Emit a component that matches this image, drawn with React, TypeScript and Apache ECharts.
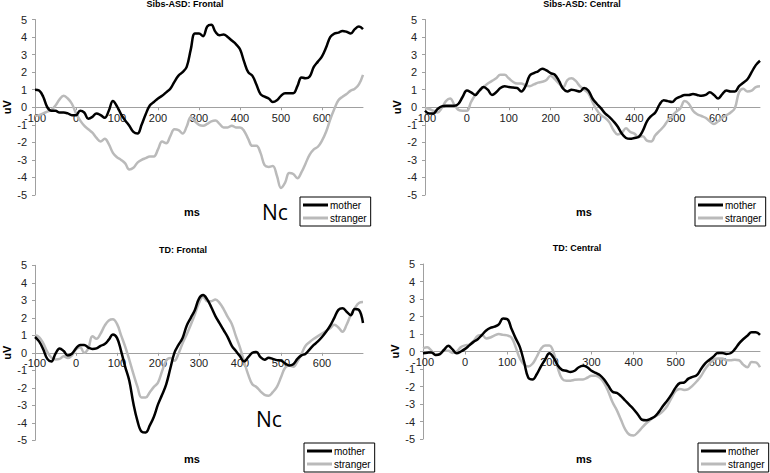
import React, { useEffect, useRef } from "react";
import * as echarts from "echarts";

const MS = [
  -100, -90, -80, -70, -60, -50, -40, -30, -20, -10,
  0, 10, 20, 30, 40, 50, 60, 70, 80, 90,
  100, 110, 120, 130, 140, 150, 160, 170, 180, 190,
  200, 210, 220, 230, 240, 250, 260, 270, 280, 290,
  300, 310, 320, 330, 340, 350, 360, 370, 380, 390,
  400, 410, 420, 430, 440, 450, 460, 470, 480, 490,
  500, 510, 520, 530, 540, 550, 560, 570, 580, 590,
  600, 610, 620, 630, 640, 650, 660, 670, 680, 690, 700,
];

const TITLES = ["Sibs-ASD: Frontal", "Sibs-ASD: Central", "TD: Frontal", "TD: Central"];
const SERIES_NAMES = ["mother", "stranger"];
const Y_TICKS = [-5, -4, -3, -2, -1, 0, 1, 2, 3, 4, 5];

// Sibs-ASD: Frontal
const sibsFrontalMother = [
  1.0, 0.95, 0.6, 0.0, -0.2, -0.2, -0.3, -0.3, -0.35, -0.45,
  -0.45, -0.2, -0.3, -0.65, -0.55, -0.35, -0.45, -0.6, -0.2, 0.35,
  0.05, -0.4, -0.75, -1.05, -1.4, -1.5, -1.0, -0.4, 0.1, 0.3,
  0.5, 0.65, 0.85, 1.05, 1.45, 1.8, 2.0, 2.3, 3.3, 4.2,
  4.2, 4.05, 4.6, 4.7, 4.3, 4.1, 4.15, 4.0, 3.8, 3.6,
  3.3, 2.6, 2.0, 1.8, 1.3, 0.75, 0.6, 0.5, 0.3, 0.4,
  0.65, 0.8, 0.8, 0.8, 1.2, 1.7, 1.65, 1.75, 2.3, 2.6,
  2.9, 3.4, 4.0, 4.2, 4.25, 4.35, 4.3, 4.2, 4.45, 4.6, 4.45,
];
const sibsFrontalStranger = [
  -0.5, -0.45, -0.35, -0.25, -0.15, 0.1, 0.45, 0.65, 0.5, 0.2,
  -0.35, -0.75, -1.05, -1.25, -1.45, -1.75, -1.95, -1.8, -2.1, -2.6,
  -2.85, -3.0, -3.2, -3.55, -3.45, -3.15, -3.0, -2.9, -2.8, -2.8,
  -2.4, -1.95, -2.05, -1.65, -1.25, -1.3, -1.5, -1.1, -0.55, -0.8,
  -1.0, -1.05, -0.95, -0.8, -0.75, -0.95, -1.15, -1.15, -1.05, -1.15,
  -1.15, -1.35, -1.8, -2.2, -2.2, -2.6, -3.3, -3.4, -3.35, -3.9,
  -4.6, -4.3, -3.75, -3.8, -4.05, -3.7, -3.2, -2.7, -2.4, -2.25,
  -1.9, -1.4, -0.7, -0.1, 0.4, 0.6, 0.75, 0.95, 1.05, 1.3, 1.85,
];

// Sibs-ASD: Central
const sibsCentralMother = [
  -0.2, -0.35, -0.35, -0.1, 0.05, 0.08, 0.08, 0.08, 0.2, 0.6,
  0.95, 0.85, 0.7, 0.95, 1.15, 1.0, 0.7, 0.85, 1.1, 1.2,
  1.15, 1.12, 1.1, 0.9, 1.2, 1.8, 1.95, 2.05, 2.2, 2.1,
  1.95, 1.85, 1.5, 1.05, 0.9, 1.0, 0.95, 0.9, 1.1, 0.95,
  0.5, 0.2, -0.05, -0.35, -0.55, -0.8, -1.1, -1.5, -1.75, -1.8,
  -1.75, -1.7, -1.35, -0.8, -0.5, -0.3, 0.15, 0.4, 0.35, 0.3,
  0.5, 0.6, 0.7, 0.7, 0.75, 0.7, 0.65, 0.7, 0.85, 0.7,
  0.5, 0.75, 0.95, 0.9, 0.9, 1.2, 1.4, 1.6, 2.0, 2.4, 2.65,
];
const sibsCentralStranger = [
  -0.05, -0.1, -0.2, -0.3, -0.05, 0.35, 0.5, 0.15, -0.15, -0.2,
  -0.2, 0.3, 0.7, 0.95, 1.15, 1.35, 1.5, 1.65, 1.85, 1.85,
  1.65, 1.45, 1.35, 1.35, 1.25, 1.2, 1.3, 1.4, 1.45, 1.55,
  1.8, 1.6, 1.35, 1.15, 1.55, 1.65, 1.5, 1.2, 1.0, 0.8,
  0.3, -0.15, -0.45, -0.6, -0.85, -1.3, -1.55, -1.45, -1.2, -1.4,
  -1.5, -1.7, -1.65, -1.9, -1.95, -1.6, -1.35, -1.1, -0.75, -0.5,
  -0.25, -0.05, 0.35, 0.2, -0.2, -0.4, -0.5, -0.6, -0.8, -0.95,
  -0.8, -0.6, -0.45, -0.3, -0.05, 0.85, 1.05, 0.9, 0.95, 1.15, 1.2,
];

// TD: Frontal
const tdFrontalMother = [
  0.9, 0.65, 0.2, -0.35, -0.5, -0.05, 0.25, 0.1, -0.15, -0.05,
  0.25, 0.45, 0.45, 0.3, 0.22, 0.25, 0.4, 0.5, 0.75, 1.05,
  0.85, 0.1, -0.8, -1.6, -2.9, -3.9, -4.5, -4.55, -4.15, -3.65,
  -2.95, -2.4, -1.8, -0.9, 0.0, 0.45, 0.85, 1.55, 2.0, 2.45,
  3.1, 3.3, 3.05, 2.6, 2.1, 1.7, 1.3, 0.9, 0.4, 0.1,
  -0.2, -0.5, -0.25, 0.0, 0.05, -0.25, -0.4, -0.28, -0.35, -0.42,
  -0.45, -0.6, -0.72, -0.65, -0.35, -0.15, -0.05, 0.2, 0.45, 0.65,
  0.9, 1.2, 1.55, 2.0, 2.45, 2.55, 2.35, 2.15, 2.5, 2.45, 1.7,
];
const tdFrontalStranger = [
  1.0, 0.9, 0.55, 0.05, -0.28, -0.38, -0.35, -0.2, -0.3, -0.15,
  0.2, 0.32, 0.0, 0.25, 0.95, 0.8, 1.1, 1.55, 1.85, 1.92,
  1.65, 1.0, 0.35, -0.4, -1.2, -1.95, -2.55, -2.55, -2.25, -1.95,
  -1.7, -1.05, -0.45, -0.3, -0.45, -0.05, 0.55, 1.05, 1.6, 2.2,
  2.85, 3.2, 2.95, 2.95, 3.05, 2.85, 2.5, 2.05, 1.65, 0.95,
  0.3, -0.5, -1.25, -1.8, -1.95, -2.2, -2.4, -2.45, -2.25, -1.95,
  -1.4, -0.85, -0.72, -0.8, -0.5, -0.05, 0.4, 0.62, 0.8, 0.95,
  1.1, 1.25, 1.4, 1.6, 1.45, 1.2, 1.6, 2.15, 2.55, 2.85, 2.9,
];

// TD: Central
const tdCentralMother = [
  -0.1, -0.07, -0.05, -0.2, -0.15, 0.1, 0.33, 0.12, -0.1, 0.0,
  0.15, 0.35, 0.55, 0.7, 0.95, 1.2, 1.35, 1.42, 1.55, 1.88,
  1.85, 1.3, 0.75, 0.25, -0.6, -1.5, -1.6, -1.3, -0.85, -0.45,
  -0.1, -0.35, -0.8, -1.05, -1.1, -1.17, -1.1, -0.9, -0.82, -0.9,
  -1.1, -1.22, -1.35, -1.6, -1.95, -2.3, -2.37, -2.55, -2.8, -3.05,
  -3.3, -3.6, -3.9, -3.93, -3.85, -3.72, -3.45, -3.1, -2.8, -2.45,
  -2.05, -1.8, -1.77, -1.55, -1.45, -1.35, -1.0, -0.68, -0.47, -0.28,
  -0.08, -0.08, -0.14, -0.1, 0.12, 0.45, 0.7, 0.9, 1.1, 1.1, 0.95,
];
const tdCentralStranger = [
  0.18, 0.24, 0.05, -0.2, -0.15, 0.05, 0.05, -0.08, 0.0, 0.25,
  0.35, 0.4, 0.6, 0.9, 0.95, 0.75, 0.8, 0.92, 1.0, 0.95,
  0.92, 0.8, 0.25, -0.4, -0.75, -0.85, -0.7, -0.3, 0.15, 0.35,
  0.35, -0.05, -0.95, -1.55, -1.67, -1.67, -1.62, -1.6, -1.6, -1.5,
  -1.38, -1.38, -1.5, -1.8, -2.3, -2.9, -3.35, -3.9, -4.45, -4.75,
  -4.8, -4.62, -4.35, -4.1, -3.9, -3.72, -3.6, -3.4, -3.1, -2.65,
  -2.25, -2.14, -2.2, -2.15, -1.95, -1.7, -1.4, -1.0, -0.7, -0.45,
  -0.4, -0.4, -0.5, -0.5, -0.47, -0.5, -0.75, -0.9, -0.6, -0.62, -0.9,
];

const PANELS = [
  [sibsFrontalMother, sibsFrontalStranger],
  [sibsCentralMother, sibsCentralStranger],
  [tdFrontalMother, tdFrontalStranger],
  [tdCentralMother, tdCentralStranger],
];

const GRIDS = [
  { left: 29, top: 19.5, width: 334, height: 175.5 },
  { left: 425, top: 19.5, width: 335, height: 175.5 },
  { left: 28, top: 265.3, width: 335, height: 175 },
  { left: 423, top: 264, width: 337, height: 175 },
];
const TITLE_POS = [
  { x: 185, y: -1 },
  { x: 582, y: -1 },
  { x: 183, y: 245 },
  { x: 577, y: 243 },
];
const MS_POS = [
  { x: 192, y: 212 },
  { x: 584, y: 212 },
  { x: 192, y: 459 },
  { x: 584, y: 459 },
];
const LEGEND_POS = [
  { left: 300, top: 197 },
  { left: 695, top: 197 },
  { left: 304, top: 443 },
  { left: 698, top: 443 },
];
const NC_POS = [
  { x: 275, y: 212 },
  { x: 269, y: 419 },
];

const COLORS = ["#000000", "#bababa"];
const FONT = "Liberation Sans, Arial, sans-serif";

export default function App() {
  const ref = useRef<HTMLDivElement>(null);
  useEffect(() => {
    if (!ref.current) return;
    const chart = echarts.init(ref.current, null, { renderer: "svg" });
    const axisGray = "#a0a0a0";
    const yMin = Y_TICKS[0];
    const yMax = Y_TICKS[Y_TICKS.length - 1];
    const option: any = {
      animation: false,
      backgroundColor: "#ffffff",
      textStyle: { fontFamily: FONT },
      title: TITLES.map((t, i) => ({
        text: t,
        left: TITLE_POS[i].x,
        top: TITLE_POS[i].y,
        textAlign: "center",
        padding: 0,
        textStyle: { fontSize: 9, fontWeight: "bold", color: "#000", fontFamily: FONT },
      })),
      grid: GRIDS.map((g) => ({ ...g, containLabel: false })),
      xAxis: GRIDS.map((g, i) => ({
        type: "value",
        gridIndex: i,
        position: "bottom",
        // place the axis (line, ticks, labels) at y = 0 of its grid
        offset: -(g.height * (0 - yMin)) / (yMax - yMin),
        min: -100,
        max: 700,
        interval: 100,
        axisLine: { onZero: false, lineStyle: { color: axisGray, width: 1 } },
        axisTick: { show: true, length: 3, lineStyle: { color: axisGray } },
        axisLabel: {
          showMaxLabel: false,
          showMinLabel: true,
          margin: 5,
          fontSize: 11,
          color: "#222",
          fontFamily: FONT,
        },
        splitLine: { show: false },
      })),
      yAxis: GRIDS.map((_, i) => ({
        type: "value",
        gridIndex: i,
        min: yMin,
        max: yMax,
        interval: 1,
        name: "uV",
        nameLocation: "middle",
        nameGap: 23,
        nameTextStyle: { fontSize: 11, fontWeight: "bold", color: "#000", fontFamily: FONT },
        axisLine: { show: true, onZero: false, lineStyle: { color: axisGray, width: 1 } },
        axisTick: { show: true, length: 3, lineStyle: { color: axisGray } },
        axisLabel: { margin: 8, fontSize: 11, color: "#222", fontFamily: FONT },
        splitLine: { show: false },
      })),
      legend: LEGEND_POS.map((p) => ({
        data: SERIES_NAMES,
        left: p.left,
        top: p.top,
        orient: "vertical",
        icon: "rect",
        itemWidth: 25,
        itemHeight: 3,
        itemGap: 3,
        padding: [3, 4, 3, 3],
        borderColor: "#000",
        borderWidth: 1,
        borderRadius: 0,
        backgroundColor: "#fff",
        selectedMode: false,
        textStyle: { fontSize: 10, color: "#000", fontFamily: FONT, padding: [0, 0, 0, -3] },
      })),
      series: PANELS.flatMap((pair, i) =>
        pair.map((vals, j) => ({
          type: "line",
          name: SERIES_NAMES[j],
          xAxisIndex: i,
          yAxisIndex: i,
          data: MS.map((m, k) => [m, vals[k]]),
          showSymbol: false,
          smooth: 0.4,
          lineStyle: { color: COLORS[j], width: 2.5 },
          itemStyle: { color: COLORS[j] },
          z: j === 0 ? 3 : 2,
        }))
      ),
      graphic: [
        ...MS_POS.map((p) => ({
          type: "text",
          x: p.x,
          y: p.y,
          style: {
            text: "ms",
            font: `bold 11px ${FONT}`,
            fill: "#000",
            textAlign: "center",
            textVerticalAlign: "middle",
          },
        })),
        ...NC_POS.map((p) => ({
          type: "text",
          x: p.x,
          y: p.y,
          style: {
            text: "Nc",
            font: `21px "Open Sans", "Noto Sans", sans-serif`,
            fill: "#000",
            textAlign: "center",
            textVerticalAlign: "middle",
          },
        })),
      ],
    };
    chart.setOption(option);
    return () => chart.dispose();
  }, []);
  return (
    <div
      ref={ref}
      style={{ position: "fixed", left: 0, top: 0, width: 770, height: 473, background: "#fff" }}
    />
  );
}
